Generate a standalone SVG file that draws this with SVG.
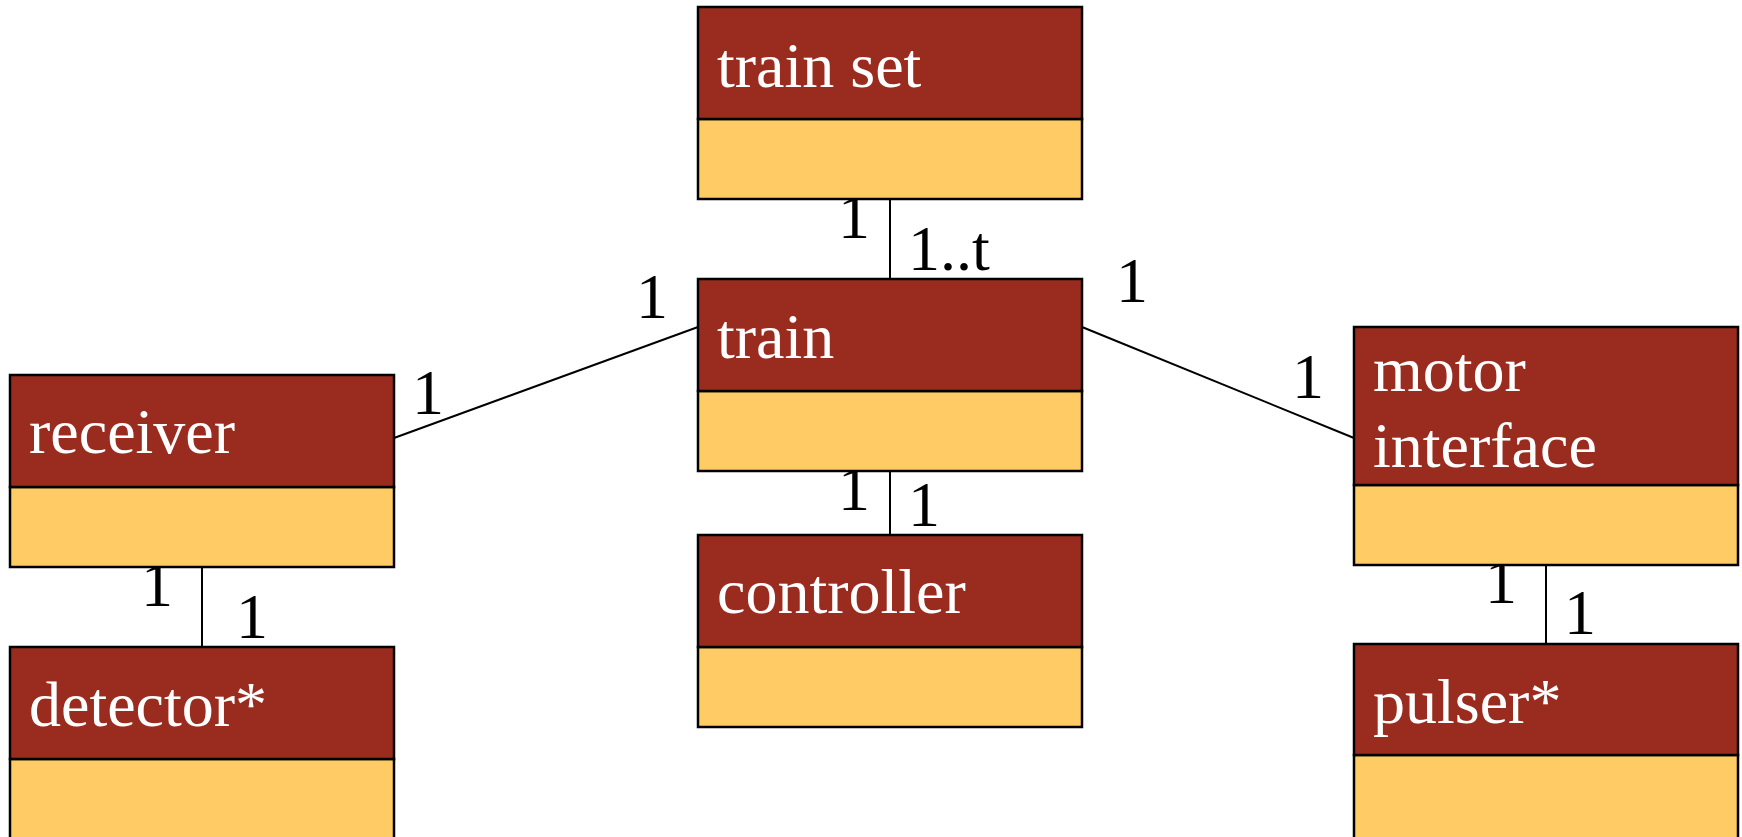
<svg xmlns="http://www.w3.org/2000/svg" width="1742" height="837" viewBox="0 0 1742 837">
<style>
.hd{fill:#9A2C1F;stroke:#000;stroke-width:2.5}
.bd{fill:#FECB65;stroke:#000;stroke-width:2.5}
.nt{font-family:"Liberation Serif","Times New Roman",serif;font-size:64px;fill:#fff}
.lb{font-family:"Liberation Serif","Times New Roman",serif;font-size:64px;fill:#000}
.cn{stroke:#000;stroke-width:2;fill:none}
</style>
<rect width="1742" height="837" fill="#fff"/>
<g id="connectors">
<line class="cn" x1="890" y1="199" x2="890" y2="279"/>
<line class="cn" x1="890" y1="471" x2="890" y2="535"/>
<line class="cn" x1="394" y1="438" x2="698" y2="327"/>
<line class="cn" x1="1082" y1="327" x2="1354" y2="438"/>
<line class="cn" x1="202" y1="567" x2="202" y2="647"/>
<line class="cn" x1="1546" y1="565" x2="1546" y2="644"/>
</g>
<g id="labels">
<text class="lb" x="838" y="238">1</text>
<text class="lb" x="908" y="270">1..t</text>
<text class="lb" x="838" y="510">1</text>
<text class="lb" x="908" y="526">1</text>
<text class="lb" x="412" y="414">1</text>
<text class="lb" x="636" y="318">1</text>
<text class="lb" x="1116" y="302">1</text>
<text class="lb" x="1292" y="398">1</text>
<text class="lb" x="141" y="606">1</text>
<text class="lb" x="236" y="638">1</text>
<text class="lb" x="1485" y="603">1</text>
<text class="lb" x="1564" y="634">1</text>
</g>
<g id="train-set">
<rect class="bd" x="698" y="119" width="384" height="80"/>
<rect class="hd" x="698" y="7" width="384" height="112"/>
<text class="nt" x="717" y="87">train set</text>
</g>
<g id="train">
<rect class="bd" x="698" y="391" width="384" height="80"/>
<rect class="hd" x="698" y="279" width="384" height="112"/>
<text class="nt" x="717" y="358">train</text>
</g>
<g id="controller">
<rect class="bd" x="698" y="647" width="384" height="80"/>
<rect class="hd" x="698" y="535" width="384" height="112"/>
<text class="nt" x="717" y="613">controller</text>
</g>
<g id="receiver">
<rect class="bd" x="10" y="487" width="384" height="80"/>
<rect class="hd" x="10" y="375" width="384" height="112"/>
<text class="nt" x="29" y="453">receiver</text>
</g>
<g id="detector">
<rect class="bd" x="10" y="759" width="384" height="100"/>
<rect class="hd" x="10" y="647" width="384" height="112"/>
<text class="nt" x="29" y="726">detector*</text>
</g>
<g id="motor-interface">
<rect class="bd" x="1354" y="485" width="384" height="80"/>
<rect class="hd" x="1354" y="327" width="384" height="158"/>
<text class="nt" x="1373" y="391">motor</text>
<text class="nt" x="1373" y="467">interface</text>
</g>
<g id="pulser">
<rect class="bd" x="1354" y="755" width="384" height="100"/>
<rect class="hd" x="1354" y="644" width="384" height="111"/>
<text class="nt" x="1373" y="723">pulser*</text>
</g>
</svg>
